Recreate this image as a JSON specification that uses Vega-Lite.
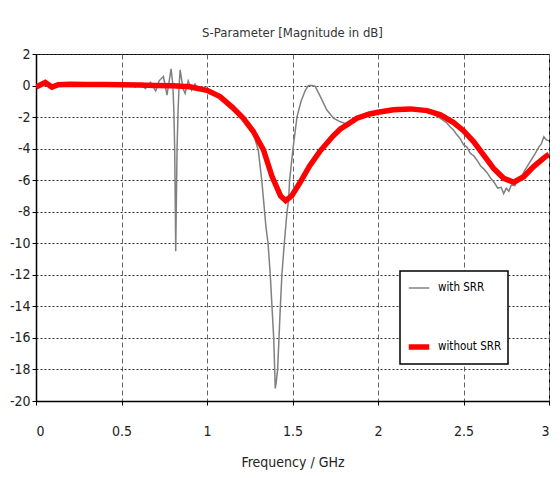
{
  "$schema": "https://vega.github.io/schema/vega-lite/v6.json",
  "width": 513,
  "height": 347,
  "autosize": "none",
  "padding": {"left": 36, "top": 54, "right": 11, "bottom": 77},
  "background": "white",
  "title": {"text": "S-Parameter [Magnitude in dB]", "fontSize": 13, "fontWeight": "normal", "color": "#333", "font": "DejaVu Sans Condensed, DejaVu Sans", "offset": 7},
  "data": {"values": [
    {"f": 0, "db": -0.1, "s": "with SRR"},
    {"f": 0.054, "db": 0.19, "s": "with SRR"},
    {"f": 0.093, "db": -0.1, "s": "with SRR"},
    {"f": 0.15, "db": 0.08, "s": "with SRR"},
    {"f": 0.25, "db": 0.05, "s": "with SRR"},
    {"f": 0.35, "db": 0.06, "s": "with SRR"},
    {"f": 0.45, "db": 0.04, "s": "with SRR"},
    {"f": 0.5, "db": 0.05, "s": "with SRR"},
    {"f": 0.55, "db": 0.12, "s": "with SRR"},
    {"f": 0.58, "db": -0.1, "s": "with SRR"},
    {"f": 0.61, "db": 0.15, "s": "with SRR"},
    {"f": 0.64, "db": -0.2, "s": "with SRR"},
    {"f": 0.67, "db": 0.2, "s": "with SRR"},
    {"f": 0.7, "db": -0.35, "s": "with SRR"},
    {"f": 0.72, "db": 0.3, "s": "with SRR"},
    {"f": 0.745, "db": 0.57, "s": "with SRR"},
    {"f": 0.766, "db": -0.6, "s": "with SRR"},
    {"f": 0.79, "db": 1.06, "s": "with SRR"},
    {"f": 0.8, "db": 0.1, "s": "with SRR"},
    {"f": 0.806, "db": -1.5, "s": "with SRR"},
    {"f": 0.811, "db": -4, "s": "with SRR"},
    {"f": 0.815, "db": -8, "s": "with SRR"},
    {"f": 0.817, "db": -10.5, "s": "with SRR"},
    {"f": 0.82, "db": -8, "s": "with SRR"},
    {"f": 0.825, "db": -4, "s": "with SRR"},
    {"f": 0.831, "db": -1.5, "s": "with SRR"},
    {"f": 0.837, "db": 0, "s": "with SRR"},
    {"f": 0.843, "db": 1.0, "s": "with SRR"},
    {"f": 0.86, "db": -0.2, "s": "with SRR"},
    {"f": 0.872, "db": -0.5, "s": "with SRR"},
    {"f": 0.89, "db": 0.3, "s": "with SRR"},
    {"f": 0.91, "db": -0.3, "s": "with SRR"},
    {"f": 0.93, "db": 0.1, "s": "with SRR"},
    {"f": 0.95, "db": -0.3, "s": "with SRR"},
    {"f": 0.97, "db": -0.15, "s": "with SRR"},
    {"f": 1.0, "db": -0.4, "s": "with SRR"},
    {"f": 1.05, "db": -0.5, "s": "with SRR"},
    {"f": 1.1, "db": -0.85, "s": "with SRR"},
    {"f": 1.15, "db": -1.4, "s": "with SRR"},
    {"f": 1.2, "db": -1.95, "s": "with SRR"},
    {"f": 1.234, "db": -2.35, "s": "with SRR"},
    {"f": 1.27, "db": -3.0, "s": "with SRR"},
    {"f": 1.3, "db": -4.1, "s": "with SRR"},
    {"f": 1.32, "db": -6.0, "s": "with SRR"},
    {"f": 1.331, "db": -7.3, "s": "with SRR"},
    {"f": 1.345, "db": -9, "s": "with SRR"},
    {"f": 1.357, "db": -10, "s": "with SRR"},
    {"f": 1.37, "db": -12, "s": "with SRR"},
    {"f": 1.38, "db": -14, "s": "with SRR"},
    {"f": 1.39, "db": -16, "s": "with SRR"},
    {"f": 1.396, "db": -18, "s": "with SRR"},
    {"f": 1.399, "db": -19.2, "s": "with SRR"},
    {"f": 1.404, "db": -18.9, "s": "with SRR"},
    {"f": 1.413, "db": -18, "s": "with SRR"},
    {"f": 1.421, "db": -16, "s": "with SRR"},
    {"f": 1.429, "db": -14, "s": "with SRR"},
    {"f": 1.438, "db": -12, "s": "with SRR"},
    {"f": 1.452, "db": -10, "s": "with SRR"},
    {"f": 1.468, "db": -8, "s": "with SRR"},
    {"f": 1.477, "db": -7.3, "s": "with SRR"},
    {"f": 1.483, "db": -6, "s": "with SRR"},
    {"f": 1.503, "db": -4, "s": "with SRR"},
    {"f": 1.526, "db": -2, "s": "with SRR"},
    {"f": 1.55, "db": -1.0, "s": "with SRR"},
    {"f": 1.575, "db": -0.3, "s": "with SRR"},
    {"f": 1.593, "db": 0, "s": "with SRR"},
    {"f": 1.615, "db": 0, "s": "with SRR"},
    {"f": 1.633, "db": -0.05, "s": "with SRR"},
    {"f": 1.663, "db": -0.7, "s": "with SRR"},
    {"f": 1.7, "db": -1.54, "s": "with SRR"},
    {"f": 1.74, "db": -2.07, "s": "with SRR"},
    {"f": 1.78, "db": -2.3, "s": "with SRR"},
    {"f": 1.82, "db": -2.45, "s": "with SRR"},
    {"f": 1.85, "db": -2.25, "s": "with SRR"},
    {"f": 1.9, "db": -2.0, "s": "with SRR"},
    {"f": 1.95, "db": -1.85, "s": "with SRR"},
    {"f": 2.0, "db": -1.75, "s": "with SRR"},
    {"f": 2.1, "db": -1.6, "s": "with SRR"},
    {"f": 2.2, "db": -1.55, "s": "with SRR"},
    {"f": 2.25, "db": -1.6, "s": "with SRR"},
    {"f": 2.3, "db": -1.72, "s": "with SRR"},
    {"f": 2.33, "db": -1.85, "s": "with SRR"},
    {"f": 2.36, "db": -2.05, "s": "with SRR"},
    {"f": 2.38, "db": -2.2, "s": "with SRR"},
    {"f": 2.4, "db": -2.35, "s": "with SRR"},
    {"f": 2.42, "db": -2.6, "s": "with SRR"},
    {"f": 2.44, "db": -2.8, "s": "with SRR"},
    {"f": 2.46, "db": -3.1, "s": "with SRR"},
    {"f": 2.48, "db": -3.35, "s": "with SRR"},
    {"f": 2.5, "db": -3.75, "s": "with SRR"},
    {"f": 2.52, "db": -3.9, "s": "with SRR"},
    {"f": 2.54, "db": -4.3, "s": "with SRR"},
    {"f": 2.56, "db": -4.45, "s": "with SRR"},
    {"f": 2.58, "db": -4.75, "s": "with SRR"},
    {"f": 2.6, "db": -5.1, "s": "with SRR"},
    {"f": 2.62, "db": -5.3, "s": "with SRR"},
    {"f": 2.64, "db": -5.55, "s": "with SRR"},
    {"f": 2.66, "db": -5.9, "s": "with SRR"},
    {"f": 2.68, "db": -6.15, "s": "with SRR"},
    {"f": 2.7, "db": -6.5, "s": "with SRR"},
    {"f": 2.72, "db": -6.45, "s": "with SRR"},
    {"f": 2.735, "db": -6.85, "s": "with SRR"},
    {"f": 2.75, "db": -6.5, "s": "with SRR"},
    {"f": 2.765, "db": -6.7, "s": "with SRR"},
    {"f": 2.78, "db": -6.3, "s": "with SRR"},
    {"f": 2.8, "db": -6.35, "s": "with SRR"},
    {"f": 2.82, "db": -5.95, "s": "with SRR"},
    {"f": 2.84, "db": -5.75, "s": "with SRR"},
    {"f": 2.86, "db": -5.35, "s": "with SRR"},
    {"f": 2.88, "db": -5.0, "s": "with SRR"},
    {"f": 2.9, "db": -4.65, "s": "with SRR"},
    {"f": 2.92, "db": -4.3, "s": "with SRR"},
    {"f": 2.94, "db": -3.9, "s": "with SRR"},
    {"f": 2.955, "db": -3.7, "s": "with SRR"},
    {"f": 2.97, "db": -3.25, "s": "with SRR"},
    {"f": 2.985, "db": -3.45, "s": "with SRR"},
    {"f": 3.0, "db": -3.5, "s": "with SRR"},

    {"f": 0, "db": -0.1, "s": "without SRR"},
    {"f": 0.054, "db": 0.19, "s": "without SRR"},
    {"f": 0.093, "db": -0.1, "s": "without SRR"},
    {"f": 0.13, "db": 0.05, "s": "without SRR"},
    {"f": 0.2, "db": 0.08, "s": "without SRR"},
    {"f": 0.3, "db": 0.07, "s": "without SRR"},
    {"f": 0.4, "db": 0.06, "s": "without SRR"},
    {"f": 0.5, "db": 0.05, "s": "without SRR"},
    {"f": 0.6, "db": 0.03, "s": "without SRR"},
    {"f": 0.7, "db": 0.0, "s": "without SRR"},
    {"f": 0.8, "db": -0.02, "s": "without SRR"},
    {"f": 0.9, "db": -0.08, "s": "without SRR"},
    {"f": 0.94, "db": -0.17, "s": "without SRR"},
    {"f": 1.0, "db": -0.3, "s": "without SRR"},
    {"f": 1.076, "db": -0.7, "s": "without SRR"},
    {"f": 1.15, "db": -1.4, "s": "without SRR"},
    {"f": 1.21, "db": -2.05, "s": "without SRR"},
    {"f": 1.27, "db": -2.9, "s": "without SRR"},
    {"f": 1.33, "db": -4.07, "s": "without SRR"},
    {"f": 1.38, "db": -5.75, "s": "without SRR"},
    {"f": 1.43, "db": -7.0, "s": "without SRR"},
    {"f": 1.46, "db": -7.3, "s": "without SRR"},
    {"f": 1.495, "db": -7.0, "s": "without SRR"},
    {"f": 1.544, "db": -6.15, "s": "without SRR"},
    {"f": 1.6, "db": -5.1, "s": "without SRR"},
    {"f": 1.66, "db": -4.17, "s": "without SRR"},
    {"f": 1.737, "db": -3.2, "s": "without SRR"},
    {"f": 1.78, "db": -2.75, "s": "without SRR"},
    {"f": 1.817, "db": -2.5, "s": "without SRR"},
    {"f": 1.877, "db": -2.07, "s": "without SRR"},
    {"f": 1.95, "db": -1.8, "s": "without SRR"},
    {"f": 2.0, "db": -1.69, "s": "without SRR"},
    {"f": 2.09, "db": -1.54, "s": "without SRR"},
    {"f": 2.19, "db": -1.48, "s": "without SRR"},
    {"f": 2.287, "db": -1.59, "s": "without SRR"},
    {"f": 2.365, "db": -1.86, "s": "without SRR"},
    {"f": 2.442, "db": -2.35, "s": "without SRR"},
    {"f": 2.5, "db": -2.86, "s": "without SRR"},
    {"f": 2.559, "db": -3.55, "s": "without SRR"},
    {"f": 2.617, "db": -4.4, "s": "without SRR"},
    {"f": 2.676, "db": -5.25, "s": "without SRR"},
    {"f": 2.735, "db": -5.88, "s": "without SRR"},
    {"f": 2.794, "db": -6.13, "s": "without SRR"},
    {"f": 2.852, "db": -5.78, "s": "without SRR"},
    {"f": 2.91, "db": -5.14, "s": "without SRR"},
    {"f": 2.969, "db": -4.6, "s": "without SRR"},
    {"f": 3.0, "db": -4.35, "s": "without SRR"}
  ]},
  "encoding": {
    "x": {"field": "f", "type": "quantitative", "scale": {"domain": [0, 3], "nice": false},
      "axis": {"values": [0, 0.5, 1, 1.5, 2, 2.5, 3], "format": "~g", "title": "Frequency / GHz", "grid": true, "gridDash": [5, 3], "gridColor": "#666", "gridOpacity": 1, "labelPadding": 19, "titlePadding": 17}},
    "y": {"field": "db", "type": "quantitative", "scale": {"domain": [-20, 2], "nice": false},
      "axis": {"values": [-20, -18, -16, -14, -12, -10, -8, -6, -4, -2, 0, 2], "title": null, "grid": true, "gridDash": [2, 2], "gridColor": "#333", "gridOpacity": 1, "labelPadding": 2, "labelExpr": "replace(datum.label, '\u2212', '-')"}},
    "color": {"field": "s", "type": "nominal", "title": null, "scale": {"domain": ["with SRR", "without SRR"], "range": ["#808080", "#ff0000"]}},
    "strokeWidth": {"field": "s", "type": "nominal", "title": null, "scale": {"domain": ["with SRR", "without SRR"], "range": [1.5, 5.5]}}
  },
  "layer": [
    {"transform": [{"filter": "datum.s == 'with SRR'"}], "mark": {"type": "line", "clip": true}},
    {"transform": [{"filter": "datum.s == 'without SRR'"}], "mark": {"type": "line", "clip": true}}
  ],
  "config": {
    "view": {"stroke": "#000", "strokeWidth": 1, "fill": "white"},
    "axis": {"domainColor": "#000", "domainWidth": 1.5, "tickColor": "#000", "tickSize": 4, "labelFont": "DejaVu Sans Condensed, DejaVu Sans", "labelFontSize": 14, "labelColor": "#222", "titleFont": "DejaVu Sans Condensed, DejaVu Sans", "titleFontSize": 14, "titleFontWeight": "normal", "titleColor": "#222"},
    "legend": {"orient": "none", "legendX": 364, "legendY": 217, "fillColor": "white", "strokeColor": "#000", "strokeWidth": 1.5, "padding": 6, "symbolType": "stroke", "symbolSize": 420, "labelFont": "DejaVu Sans Condensed, DejaVu Sans", "labelFontSize": 11.5, "labelColor": "#000", "rowPadding": 40, "labelOffset": 6}
  }
}
